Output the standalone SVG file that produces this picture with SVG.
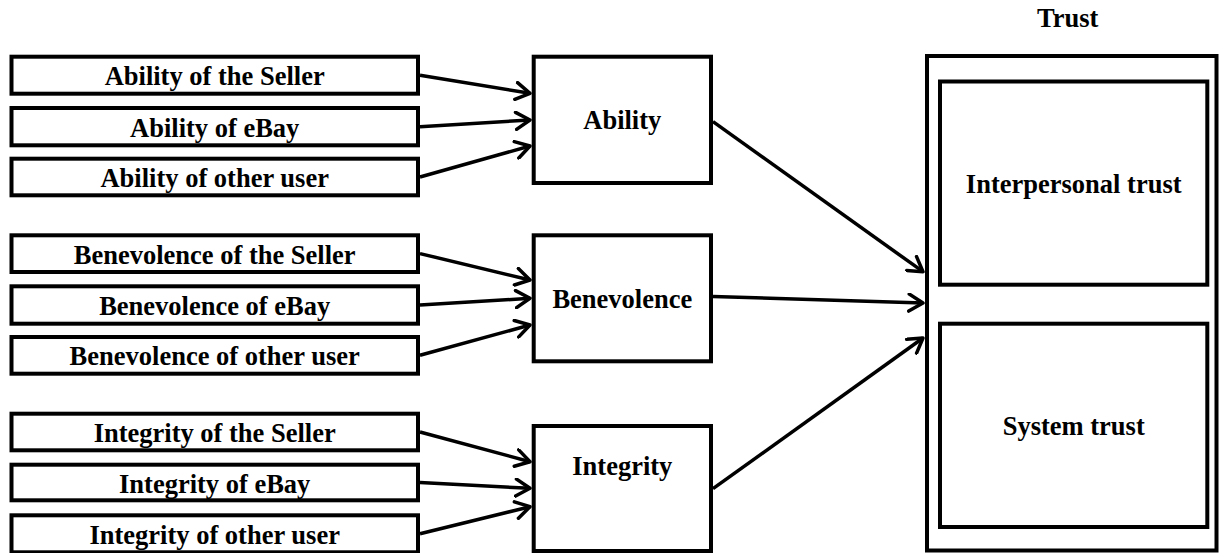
<svg xmlns="http://www.w3.org/2000/svg" width="1219" height="553" viewBox="0 0 1219 553">
<style>
.box{fill:#fff;stroke:#000;stroke-width:4}
.lbl{font-family:"Liberation Serif","Times New Roman",serif;font-weight:bold;font-size:26.5px;fill:#000;text-anchor:middle}
.con{fill:none;stroke:#000;stroke-width:3.5;marker-end:url(#arr)}
</style>
<defs>
<marker id="arr" markerUnits="userSpaceOnUse" markerWidth="20" markerHeight="20" viewBox="0 0 20 20" refX="16" refY="10" orient="auto">
<path d="M2,1.5 L16,10 L2,18.5" fill="none" stroke="#000" stroke-width="3.5" stroke-linecap="round" stroke-linejoin="round"/>
</marker>
</defs>
<rect width="1219" height="553" fill="#fff"/>
<g id="trust">
<rect class="box" x="927" y="56" width="289.5" height="494.5"/>
<text class="lbl" x="1067.7" y="27.2">Trust</text>
</g>
<g id="interpersonal">
<rect class="box" x="940" y="81.5" width="267.3" height="203.2"/>
<text class="lbl" x="1073.7" y="192.5">Interpersonal trust</text>
</g>
<g id="system">
<rect class="box" x="940" y="323.7" width="267.3" height="203.3"/>
<text class="lbl" x="1073.7" y="434.8">System trust</text>
</g>
<g id="ability">
<rect class="box" x="533.7" y="56.7" width="177.3" height="126.3"/>
<text class="lbl" x="622.3" y="129.3">Ability</text>
</g>
<g id="benevolence">
<rect class="box" x="533.7" y="235.3" width="177.3" height="126"/>
<text class="lbl" x="622.3" y="307.7">Benevolence</text>
</g>
<g id="integrity">
<rect class="box" x="533.7" y="426" width="177.3" height="125"/>
<text class="lbl" x="622.3" y="475">Integrity</text>
</g>
<g id="ability-seller"><rect class="box" x="11.5" y="56.7" width="406.5" height="37"/><text class="lbl" x="214.7" y="85">Ability of the Seller</text></g>
<g id="ability-ebay"><rect class="box" x="11.5" y="108" width="406.5" height="37.3"/><text class="lbl" x="214.7" y="136.5">Ability of eBay</text></g>
<g id="ability-user"><rect class="box" x="11.5" y="158.7" width="406.5" height="36.6"/><text class="lbl" x="214.7" y="187">Ability of other user</text></g>
<g id="benevolence-seller"><rect class="box" x="11.5" y="235.3" width="406.5" height="36.7"/><text class="lbl" x="214.7" y="263.5">Benevolence of the Seller</text></g>
<g id="benevolence-ebay"><rect class="box" x="11.5" y="286.3" width="406.5" height="37.4"/><text class="lbl" x="214.7" y="314.8">Benevolence of eBay</text></g>
<g id="benevolence-user"><rect class="box" x="11.5" y="337" width="406.5" height="36.7"/><text class="lbl" x="214.7" y="365.3">Benevolence of other user</text></g>
<g id="integrity-seller"><rect class="box" x="11.5" y="413.7" width="406.5" height="36.6"/><text class="lbl" x="214.7" y="442">Integrity of the Seller</text></g>
<g id="integrity-ebay"><rect class="box" x="11.5" y="464.7" width="406.5" height="35.6"/><text class="lbl" x="214.7" y="492.5">Integrity of eBay</text></g>
<g id="integrity-user"><rect class="box" x="11.5" y="515.3" width="406.5" height="37"/><text class="lbl" x="214.7" y="543.5">Integrity of other user</text></g>
<g id="connectors">
<line class="con" x1="420" y1="75.2" x2="530" y2="93.3"/>
<line class="con" x1="420" y1="126.7" x2="530" y2="120"/>
<line class="con" x1="420" y1="177" x2="530" y2="146"/>
<line class="con" x1="420" y1="253.6" x2="530" y2="280"/>
<line class="con" x1="420" y1="305" x2="530" y2="298.3"/>
<line class="con" x1="420" y1="355.3" x2="530" y2="325"/>
<line class="con" x1="420" y1="432" x2="530" y2="461.7"/>
<line class="con" x1="420" y1="482.5" x2="530" y2="488.3"/>
<line class="con" x1="420" y1="533.8" x2="530" y2="506.7"/>
<line class="con" x1="713" y1="121.7" x2="923" y2="271.7"/>
<line class="con" x1="713" y1="296.4" x2="923" y2="303"/>
<line class="con" x1="713" y1="488.7" x2="923" y2="338"/>
</g>
</svg>
